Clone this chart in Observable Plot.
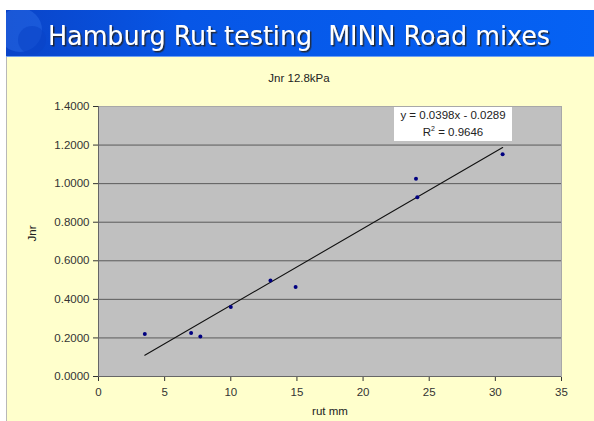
<!DOCTYPE html>
<html><head><meta charset="utf-8">
<script src="https://cdn.jsdelivr.net/npm/d3@7"></script>
<script src="https://cdn.jsdelivr.net/npm/@observablehq/plot@0.6"></script>
<style>
html,body{margin:0;padding:0;background:#fff;}
#wrap{position:relative;width:594px;height:421px;overflow:hidden;background:#fff;font-family:"Liberation Sans",Arial,sans-serif;}
#bar{position:absolute;left:6px;top:10px;width:588px;height:47px;}
#yellow{position:absolute;left:6px;top:57px;width:588px;height:364px;background:#ffffcc;border-left:1px solid #b8b8b8;box-sizing:border-box;}
#chart{position:absolute;left:6px;top:57px;}
#eq{position:absolute;left:394px;top:107px;width:118px;height:34px;background:#fff;font-size:11.5px;color:#222;text-align:center;line-height:17px;}
</style></head>
<body><div id="wrap">
<svg id="bar" width="588" height="47">
  <defs>
    <linearGradient id="g" x1="0" x2="1" y1="0" y2="0">
      <stop offset="0" stop-color="#0a44c8"/>
      <stop offset="0.3" stop-color="#0756e6"/>
      <stop offset="1" stop-color="#0562f4"/>
    </linearGradient>
    <filter id="sh" x="-5%" y="-20%" width="110%" height="150%">
      <feDropShadow dx="1.5" dy="1.5" stdDeviation="0.4" flood-color="#202020" flood-opacity="0.9"/>
    </filter>
  </defs>
  <rect width="588" height="47" fill="url(#g)"/>
  <circle cx="14" cy="20" r="22" fill="#2f6fe8" opacity="0.45"/>
  <circle cx="26" cy="30" r="14" fill="#0a44c8" opacity="0.6"/>
  <line x1="0" y1="46.5" x2="588" y2="46.5" stroke="#6fa0f0" stroke-width="1"/>
  <text x="42" y="35" fill="#fff" filter="url(#sh)" xml:space="preserve" style="white-space:pre" font-family="DejaVu Sans Condensed, DejaVu Sans, sans-serif" font-size="26" textLength="502" lengthAdjust="spacingAndGlyphs">Hamburg Rut testing  MINN Road mixes</text>
</svg>
<div id="yellow"></div>
<div id="chart"></div>
<div id="eq">y = 0.0398x - 0.0289<br>R<sup style="font-size:7px;vertical-align:5px;line-height:0">2</sup> = 0.9646</div>
</div>
<script>
const rut = [3.5, 7.0, 7.7, 10.0, 13.0, 14.9, 24.0, 24.1, 30.55];
const jnr = [0.220, 0.225, 0.208, 0.360, 0.498, 0.464, 1.026, 0.930, 1.152];
const slope = [0.0398];
const intercept = [-0.0289];
const xTicks = [0, 5, 10, 15, 20, 25, 30, 35];
const yTicks = [0, 0.2, 0.4, 0.6, 0.8, 1.0, 1.2, 1.4];
const chartTitle = "Jnr 12.8kPa";
const xLabel = "rut mm";
const yLabel = "Jnr";

const pts = rut.map((x, i) => ({x, y: jnr[i]}));
const x0 = d3.min(rut), x1 = d3.max(rut);
const trend = [x0, x1].map(x => ({x, y: slope[0] * x + intercept[0]}));

const W = 588, H = 364;
const plot = Plot.plot({
  width: W, height: H,
  marginLeft: 92, marginRight: 33, marginTop: 49, marginBottom: 45,
  style: {background: "transparent", fontFamily: "Liberation Sans, Arial, sans-serif", fontSize: "11.5px", color: "#333"},
  x: {domain: [0, 35], ticks: xTicks, tickSize: 5, tickPadding: 6, label: null},
  y: {domain: [0, 1.4], ticks: yTicks, tickFormat: d3.format(".4f"), tickSize: 5, tickPadding: 4, label: null},
  marks: [
    Plot.frame({fill: "#c0c0c0", stroke: "#a8a8a8"}),
    Plot.ruleY(yTicks.filter(d => d > 0 && d < 1.4), {stroke: "#5a5a5a", strokeWidth: 1}),
    Plot.ruleX([0], {stroke: "#666"}),
    Plot.ruleY([0], {stroke: "#666"}),
    Plot.line(trend, {x: "x", y: "y", stroke: "#111", strokeWidth: 1.1}),
    Plot.dot(pts, {x: "x", y: "y", r: 2, fill: "#000080", stroke: "none"}),
    Plot.text([chartTitle], {frameAnchor: "top", dx: -31, dy: -33, fontSize: 11.5, fill: "#222"}),
    Plot.text([xLabel], {frameAnchor: "bottom", dy: 38, fontSize: 11.5, fill: "#222"}),
    Plot.text([yLabel], {frameAnchor: "left", dx: -66, rotate: -90, fontSize: 11.5, fill: "#222"})
  ]
});
document.getElementById("chart").appendChild(plot);
</script>
</body></html>
